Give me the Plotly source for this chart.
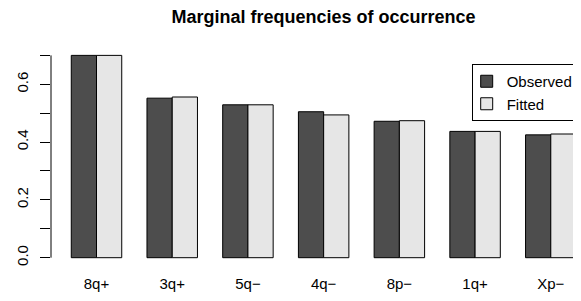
import plotly.graph_objects as go

categories = ["8q+", "3q+", "5q\u2212", "4q\u2212", "8p\u2212", "1q+", "Xp\u2212"]
observed = [0.700, 0.552, 0.529, 0.505, 0.472, 0.437, 0.425]
fitted = [0.700, 0.556, 0.529, 0.494, 0.474, 0.437, 0.428]
y_tick_vals = [0.0, 0.1, 0.2, 0.3, 0.4, 0.5, 0.6, 0.7]
y_tick_text = ["0.0", "", "0.2", "", "0.4", "", "0.6", ""]

FONT = "Liberation Sans, Arial, Helvetica, sans-serif"

# The page body has an 8px margin, so the figure is sized to end at the window edge.
W, H = 573, 293

fig = go.Figure()
fig.add_trace(go.Bar(x=categories, y=observed, name="Observed",
                     marker=dict(color="#4D4D4D", line=dict(color="black", width=1))))
fig.add_trace(go.Bar(x=categories, y=fitted, name="Fitted",
                     marker=dict(color="#E6E6E6", line=dict(color="black", width=1))))

fig.update_layout(
    width=W, height=H,
    margin=dict(l=43, r=0, t=39, b=35, autoexpand=False),
    paper_bgcolor="white", plot_bgcolor="white",
    barmode="group", bargap=1/3, bargroupgap=0,
    font=dict(family=FONT, size=15, color="black"),
    title=dict(text="<b>Marginal frequencies of occurrence</b>",
               font=dict(family=FONT, size=18, color="black"),
               x=315.5 / W, xref="container", xanchor="center",
               y=1 - 9 / H, yref="container", yanchor="middle"),
    legend=dict(x=(463.7 - 43) / 530, y=(258 - 56) / 219, xanchor="left", yanchor="top",
                bordercolor="black", borderwidth=1, bgcolor="white", indentation=-6,
                font=dict(family=FONT, size=15, color="black")),
    xaxis=dict(range=[-0.601, 6.399], showline=False, showgrid=False, zeroline=False,
               ticks="", ticklabelstandoff=7, tickfont=dict(size=15)),
    yaxis=dict(range=[-0.0287, 0.729], showline=False, showgrid=False, zeroline=False,
               tickvals=y_tick_vals, ticktext=y_tick_text, ticks="outside", ticklen=10,
               tickwidth=1, tickcolor="black", tickangle=-90, ticklabelstandoff=6,
               tickfont=dict(size=15)),
    shapes=[dict(type="line", xref="paper", yref="y", x0=0, x1=0, y0=0, y1=0.7,
                 line=dict(color="black", width=1))],
)

fig.write_html("out.html")
